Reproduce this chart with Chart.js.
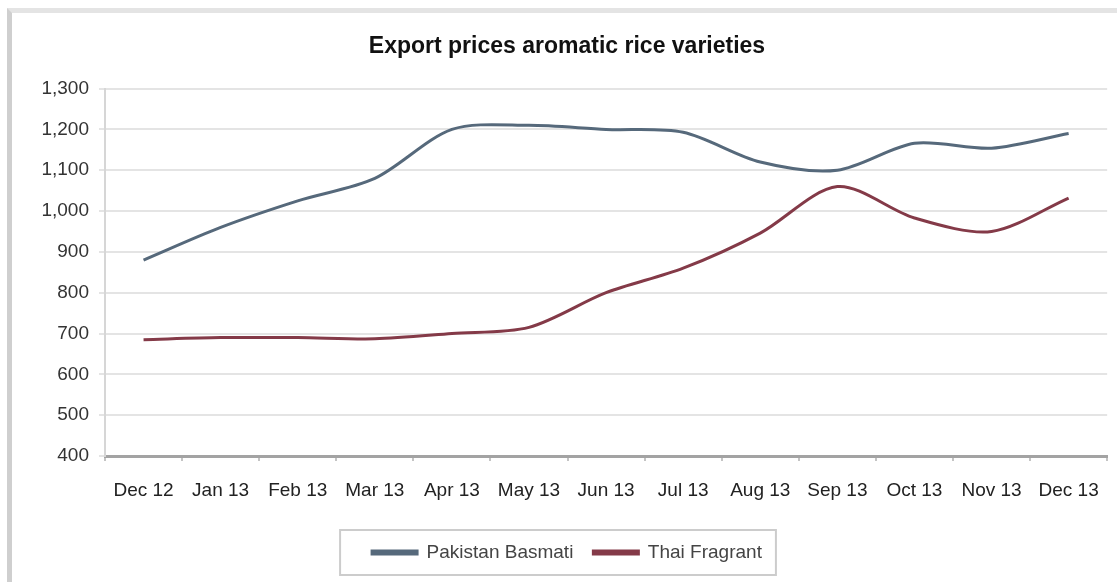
<!DOCTYPE html>
<html>
<head>
<meta charset="utf-8">
<script src="https://cdn.jsdelivr.net/npm/chart.js@4.4.1/dist/chart.umd.min.js"></script>
<style>
  html, body { margin: 0; padding: 0; background: #fff; overflow: hidden; }
  #frame { position: absolute; left: 7px; top: 8px; width: 1120px; height: 580px;
           border-left: 5px solid #cfcfcf; border-top: 5px solid #e4e4e4; }
  #wrap { position: absolute; left: 0; top: 0; width: 1117px; height: 582px; }
</style>
</head>
<body>
<div id="frame"></div>
<div id="wrap"><canvas id="chart"></canvas></div>
<script>
// カテゴリ（月）
const months = ['Dec 12', 'Jan 13', 'Feb 13', 'Mar 13', 'Apr 13', 'May 13', 'Jun 13',
                'Jul 13', 'Aug 13', 'Sep 13', 'Oct 13', 'Nov 13', 'Dec 13'];

// 系列の値（USD/t、画像から読み取り）
const pakistanBasmati = [880, 960, 1025, 1080, 1200, 1210, 1200, 1193, 1120, 1100, 1166, 1154, 1190];
const thaiFragrant = [685, 690, 690, 687, 700, 715, 800, 860, 946, 1060, 983, 950, 1032];

// 縦軸の範囲
const yMin = 400;
const yMax = 1300;
const yStep = 100;

const FONT = "'Liberation Sans', Arial, sans-serif";

// 凡例の枠線
const legendBox = {
  id: 'legendBox',
  afterDraw(chart) {
    const items = chart.legend.legendHitBoxes;
    if (!items || !items.length) return;
    const left = Math.min(...items.map(h => h.left)) - 32;
    const right = Math.max(...items.map(h => h.left + h.width)) + 14;
    const top = items[0].top - 13;
    const bottom = items[0].top + items[0].height + 13;
    const ctx = chart.ctx;
    ctx.save();
    ctx.strokeStyle = '#cccccc';
    ctx.lineWidth = 2;
    ctx.strokeRect(left, top, right - left, bottom - top);
    ctx.restore();
  }
};

const ctx = document.getElementById('chart').getContext('2d');
new Chart(ctx, {
  type: 'line',
  data: {
    labels: months,
    datasets: [
      {
        label: 'Pakistan Basmati',
        data: pakistanBasmati,
        borderColor: '#56697b',
        backgroundColor: '#56697b',
        borderWidth: 3,
        pointRadius: 0,
        tension: 0.3
      },
      {
        label: 'Thai Fragrant',
        data: thaiFragrant,
        borderColor: '#843a48',
        backgroundColor: '#843a48',
        borderWidth: 3,
        pointRadius: 0,
        tension: 0.3
      }
    ]
  },
  options: {
    responsive: true,
    maintainAspectRatio: false,
    animation: false,
    devicePixelRatio: 1,
    layout: { padding: { left: 24, right: 7, top: 0, bottom: 10 } },
    plugins: {
      title: {
        display: true,
        text: 'Export prices aromatic rice varieties',
        color: '#111',
        font: { family: FONT, size: 23, weight: 'bold' },
        padding: { top: 33, bottom: 28 }
      },
      legend: {
        position: 'bottom',
        labels: {
          color: '#444',
          font: { family: FONT, size: 19 },
          boxWidth: 45,
          boxHeight: 3,
          padding: 20
        }
      },
      tooltip: { enabled: false }
    },
    scales: {
      x: {
        offset: true,
        border: { color: '#a3a3a3', width: 3 },
        grid: { offset: true, drawOnChartArea: false, drawTicks: true, tickLength: 5, color: '#c4c4c4', lineWidth: 2 },
        ticks: { color: '#222', font: { family: FONT, size: 19 }, autoSkip: false, maxRotation: 0, padding: 18 },
        afterFit(scale) { scale.height = 67; }
      },
      y: {
        min: yMin,
        max: yMax,
        border: { color: '#d6d6d6', width: 2 },
        grid: { color: '#e4e4e4', lineWidth: 2, tickLength: 6 },
        ticks: {
          stepSize: yStep,
          color: '#333',
          font: { family: FONT, size: 19 },
          padding: 10,
          callback: v => v.toLocaleString('en-US')
        },
        afterFit(scale) { scale.width = 81; }
      }
    }
  },
  plugins: [legendBox]
});
</script>
</body>
</html>
